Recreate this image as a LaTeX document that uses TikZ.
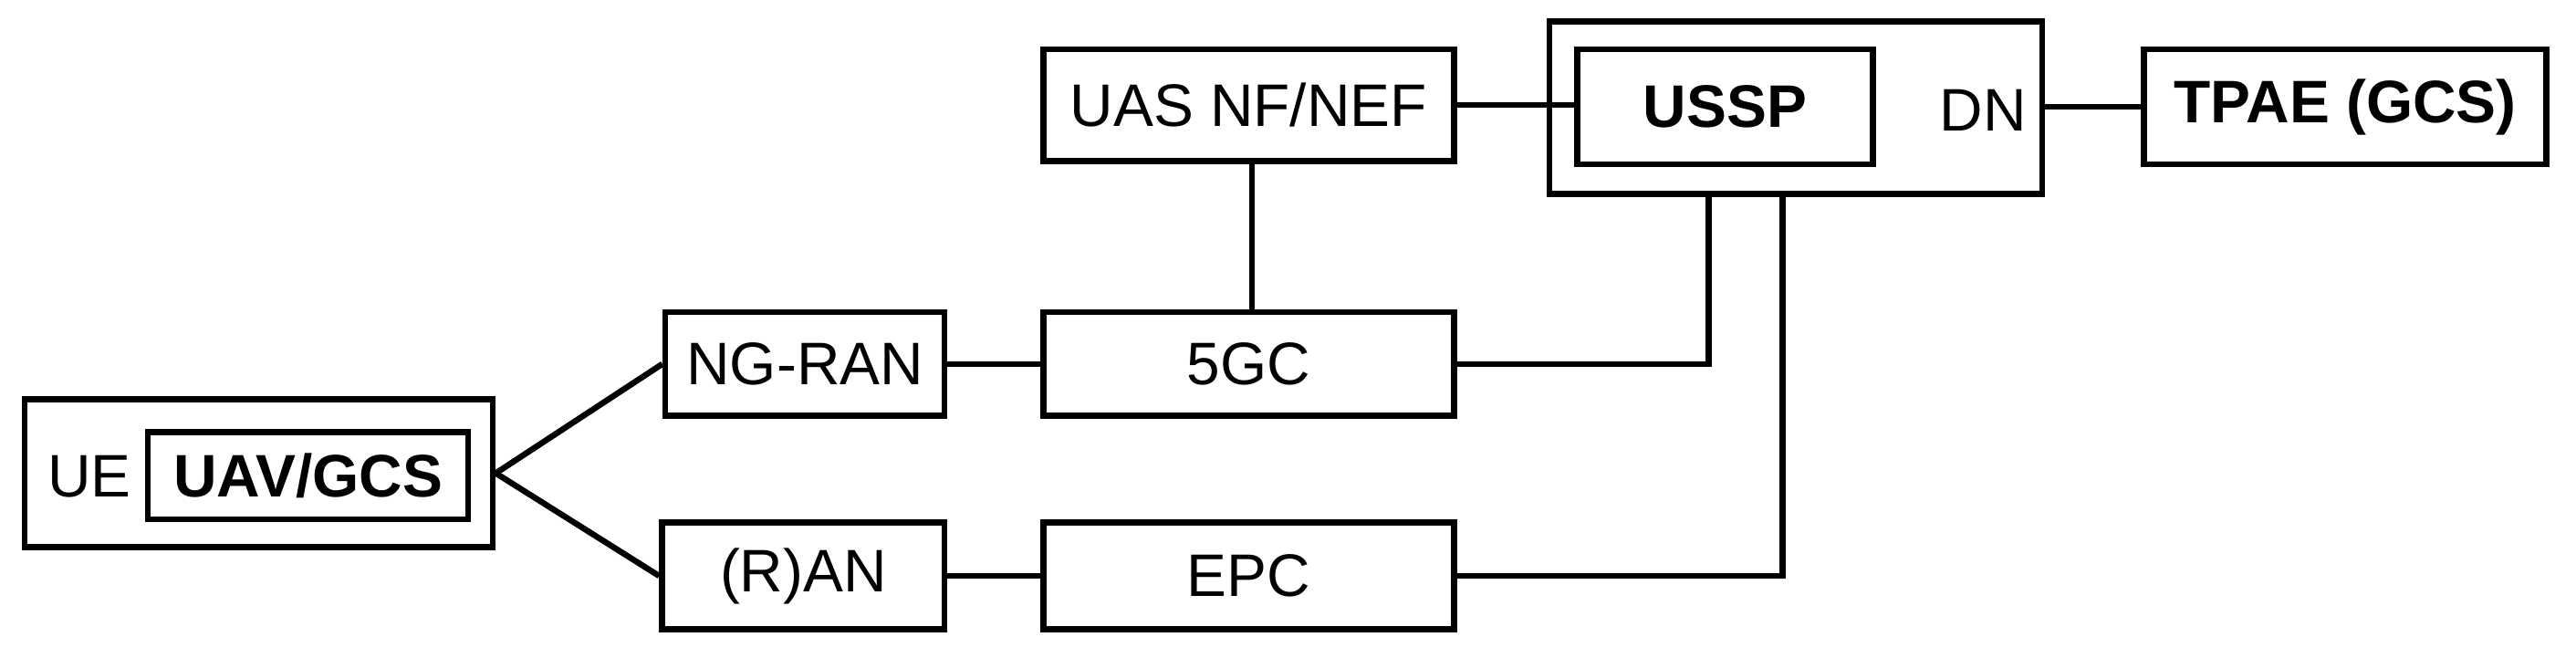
\documentclass[tikz,border=0pt]{standalone}
\usepackage{fontspec}
\setmainfont{Liberation Sans}
\begin{document}
\begin{tikzpicture}[x=0.05cm,y=-0.05cm,line width=0.18cm,
  box/.style={draw,inner sep=0pt,font=\fontsize{52}{56}\selectfont},
  bbox/.style={box,font=\fontsize{52}{56}\selectfont\bfseries}]
\useasboundingbox (0,0) rectangle (1568,400);
\node[box,minimum width=14.25cm,minimum height=4.5cm] (ue) at (157.5,288) {};
\node[anchor=west,font=\fontsize{52}{56}\selectfont] (uet) at (25,290) {UE};
\node[bbox,minimum width=9.75cm,minimum height=2.65cm] (uav) at (187.5,289.5) {UAV/GCS};
\node[box,minimum width=8.5cm,minimum height=3.15cm] (ngran) at (490,221.5) {NG-RAN};
\node[box,minimum width=8.6cm,minimum height=3.25cm] (ran) at (489,350.5) {(R)AN};
\node[box,minimum width=12.5cm,minimum height=3.15cm] (fgc) at (760,221.5) {5GC};
\node[box,minimum width=12.5cm,minimum height=3.25cm] (epc) at (760,350.5) {EPC};
\node[box,minimum width=12.5cm,minimum height=3.4cm] (uas) at (760,64) {UAS NF/NEF};
\node[box,minimum width=15cm,minimum height=5.25cm] (dn) at (1093,65.5) {};
\node[bbox,minimum width=9cm,minimum height=3.5cm] (ussp) at (1050,65) {USSP};
\node[font=\fontsize{52}{56}\selectfont] (dnt) at (1207,67) {DN};
\node[bbox,minimum width=12.25cm,minimum height=3.5cm] (tpae) at (1427.5,65) {TPAE (GCS)};
\draw (ue.east) -- (ngran.west);
\draw (ue.east) -- (ran.west);
\draw (ngran) -- (fgc);
\draw (ran) -- (epc);
\draw ([xshift=0.1cm]uas.south) -- ([xshift=0.1cm]uas.south |- fgc.north);
\draw (uas.east) -- (uas.east -| ussp.west);
\draw (tpae.west) -- (tpae.west -| dn.east);
\draw (fgc.east) -| ([xshift=-2.65cm]dn.south);
\draw (epc.east) -| ([xshift=-0.4cm]dn.south);
\end{tikzpicture}
\end{document}
